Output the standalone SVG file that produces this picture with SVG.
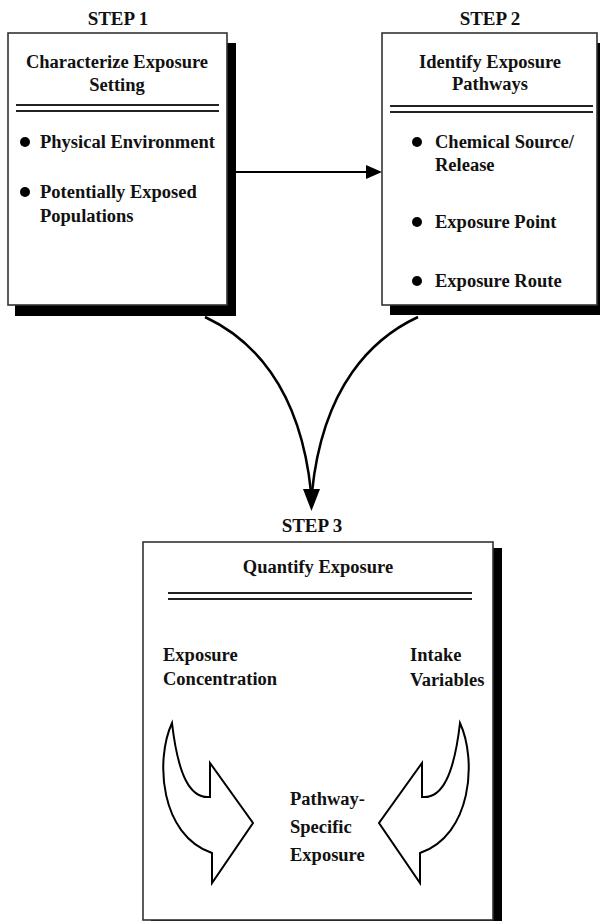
<svg xmlns="http://www.w3.org/2000/svg" width="600" height="921" viewBox="0 0 600 921">
<style>
text{font-family:"Liberation Serif","Times New Roman",serif;font-weight:bold;fill:#111;font-size:18.5px}
.step{font-size:19px}
.c{text-anchor:middle}
.box{fill:#fff;stroke:#333;stroke-width:1.6}
.sh{fill:#000}
.dl{stroke:#222;stroke-width:2}
.con{fill:none;stroke:#000;stroke-width:2.5}
.arr{fill:#fff;stroke:#000;stroke-width:2;stroke-linejoin:miter}
</style>
<rect width="600" height="921" fill="#fff"/>
<g id="step1">
<text class="step c" x="118" y="25">STEP 1</text>
<rect class="sh" x="15" y="43" width="221" height="273"/>
<rect class="box" x="8" y="33" width="219" height="272"/>
<text class="c" x="117" y="68">Characterize Exposure</text>
<text class="c" x="117" y="91">Setting</text>
<line class="dl" x1="16" y1="105" x2="219" y2="105"/>
<line class="dl" x1="16" y1="111" x2="219" y2="111"/>
<circle cx="25" cy="142" r="5" fill="#000"/>
<text x="40" y="148">Physical Environment</text>
<circle cx="25" cy="192" r="5" fill="#000"/>
<text x="40" y="198">Potentially Exposed</text>
<text x="40" y="222">Populations</text>
</g>
<g id="step2">
<text class="step c" x="490" y="25">STEP 2</text>
<rect class="sh" x="390" y="43" width="220" height="272"/>
<rect class="box" x="382" y="33" width="215" height="272"/>
<text class="c" x="490" y="68">Identify Exposure</text>
<text class="c" x="490" y="90">Pathways</text>
<line class="dl" x1="390" y1="106" x2="593" y2="106"/>
<line class="dl" x1="390" y1="112" x2="593" y2="112"/>
<circle cx="417" cy="142" r="5" fill="#000"/>
<text x="435" y="148">Chemical Source/</text>
<text x="435" y="171">Release</text>
<circle cx="417" cy="222" r="5" fill="#000"/>
<text x="435" y="228">Exposure Point</text>
<circle cx="417" cy="281" r="5" fill="#000"/>
<text x="435" y="287">Exposure Route</text>
</g>
<g id="step3">
<text class="step c" x="312" y="532">STEP 3</text>
<rect class="sh" x="151" y="548" width="351" height="400"/>
<rect class="box" x="143" y="542" width="350" height="378"/>
<text class="c" x="318" y="573">Quantify Exposure</text>
<line class="dl" x1="168" y1="593" x2="472" y2="593"/>
<line class="dl" x1="168" y1="599" x2="472" y2="599"/>
<text x="163" y="661">Exposure</text>
<text x="163" y="685">Concentration</text>
<text x="410" y="661">Intake</text>
<text x="410" y="686">Variables</text>
<path class="arr" d="M172,723 C155,760 160,835 212,853 L212,883 L253,823 L210,763 L210,797 C190,799 178,775 172,723 Z"/>
<path class="arr" transform="translate(632,0) scale(-1,1)" d="M172,723 C155,760 160,835 212,853 L212,883 L253,823 L210,763 L210,797 C190,799 178,775 172,723 Z"/>
<text x="290" y="805">Pathway-</text>
<text x="290" y="833">Specific</text>
<text x="290" y="861">Exposure</text>
</g>
<g id="connectors">
<line x1="236" y1="172" x2="368" y2="172" stroke="#000" stroke-width="2"/>
<polygon points="382,172 366,165 366,179" fill="#000"/>
<path class="con" d="M205,317 C250,338 300,385 311,492"/>
<path class="con" d="M418,317 C373,338 323,385 312,492"/>
<polygon points="311.5,511 303,489 320,489" fill="#000"/>
</g>
</svg>
